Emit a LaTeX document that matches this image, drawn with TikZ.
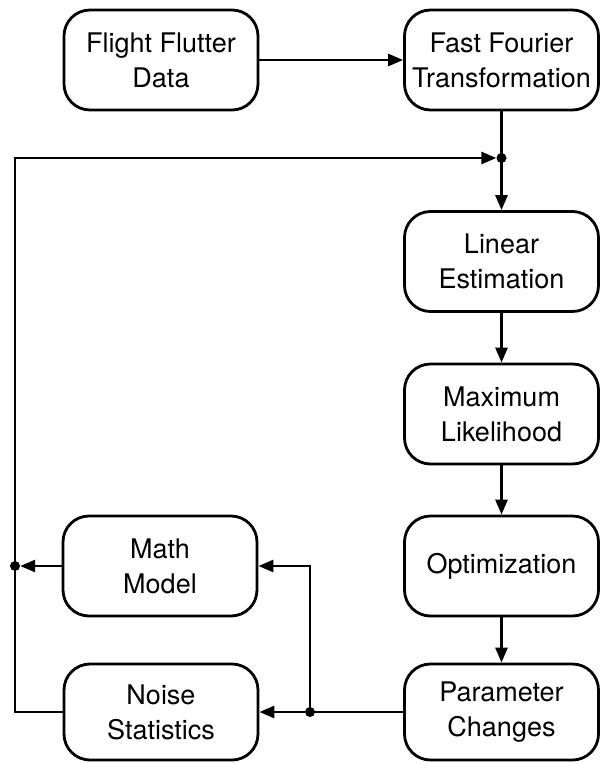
\documentclass[tikz,border=0pt]{standalone}
\usepackage{fontspec}
\setmainfont{TeX Gyre Heros}
\usetikzlibrary{arrows.meta}
\begin{document}
\begin{tikzpicture}[x=1pt,y=-1pt,
  box/.style={draw, line width=2.8pt, rounded corners=26pt, align=center,
    font=\fontsize{27}{35}\selectfont, inner sep=0pt,
    minimum width=194pt, minimum height=100pt},
  conn/.style={line width=2.8pt},
  arr/.style={conn, -{Triangle[length=15pt,width=12pt]}},
  dot/.style={fill, circle, inner sep=0pt, minimum size=10pt}]
\useasboundingbox (0,0) rectangle (607,763);
\node[box] (ff)  at (161,60)    {Flight Flutter\\Data};
\node[box] (fft) at (501.5,60)  {Fast Fourier\\Transformation};
\node[box] (lin) at (501.5,261.5) {Linear\\Estimation};
\node[box] (mlk) at (501.5,414) {Maximum\\Likelihood};
\node[box] (opt) at (501.5,566) {Optimization};
\node[box, minimum height=96pt] (pc)  at (501.5,712) {Parameter\\Changes};
\node[box] (mm)  at (160,566)   {Math\\Model};
\node[box, minimum height=96pt] (ns)  at (161,712)   {Noise\\Statistics};
\node[dot] (j1) at (501.5,158) {};
\node[dot] (j2) at (310,712) {};
\node[dot] (j3) at (15,566) {};
\coordinate (c2) at (15,158);
\draw[arr] (ff.east) -- (fft.west);
\draw[conn] (fft.south) -- (j1.center);
\draw[arr] (j1.center) -- (lin.north);
\draw[arr] (lin.south) -- (mlk.north);
\draw[arr] (mlk.south) -- (opt.north);
\draw[arr] (opt.south) -- (pc.north);
\draw[conn] (pc.west) -- (j2.center);
\draw[arr] (j2.center) -- (ns.east);
\draw[arr] (j2.center) |- (mm.east);
\draw[arr] (mm.west) -- (j3);
\draw[arr] (ns.west) -| (c2) -- (j1);
\end{tikzpicture}
\end{document}
